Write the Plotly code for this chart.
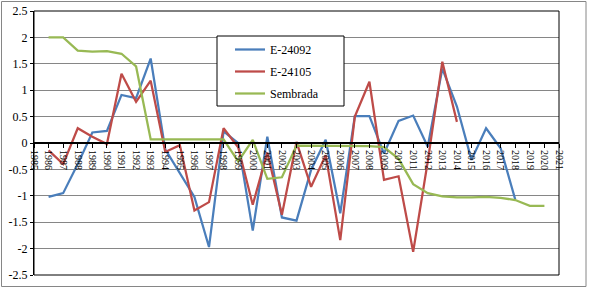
import plotly.graph_objects as go

tick_years = list(range(1985, 2022))
y_tickvals = [2.5, 2, 1.5, 1, 0.5, 0, -0.5, -1, -1.5, -2, -2.5]
y_ticktext = ["2.5", "2", "1.5", "1", "0.5", "0", "-0.5", "-1", "-1.5", "-2", "-2.5"]

years_e24092 = list(range(1986, 2019))
e24092 = [-1.02, -0.95, -0.4, 0.2, 0.23, 0.91, 0.85, 1.6, -0.12, -0.58,
          -1.02, -1.97, 0.22, 0.0, -1.66, 0.12, -1.41, -1.47, -0.51, 0.06,
          -1.33, 0.51, 0.51, -0.2, 0.42, 0.52, -0.07, 1.41, 0.69, -0.32,
          0.28, -0.1, -1.07]

years_e24105 = list(range(1986, 2015))
e24105 = [-0.14, -0.4, 0.28, 0.12, -0.02, 1.31, 0.78, 1.18, -0.17, -0.04,
          -1.28, -1.12, 0.28, -0.08, -1.17, -0.18, -1.36, 0.02, -0.83, -0.23,
          -1.84, 0.5, 1.16, -0.7, -0.63, -2.06, -0.35, 1.54, 0.4]

years_sembrada = list(range(1986, 2021))
sembrada = [2.0, 2.0, 1.75, 1.73, 1.74, 1.69, 1.45, 0.07, 0.07, 0.07,
            0.07, 0.07, 0.07, -0.35, 0.06, -0.68, -0.65, -0.05, -0.05, -0.05,
            -0.05, -0.05, -0.06, -0.08, -0.3, -0.78, -0.95, -1.01, -1.03, -1.03,
            -1.02, -1.04, -1.08, -1.19, -1.19]

FONT = '"Liberation Serif", "Times New Roman", serif'

fig = go.Figure()
fig.add_trace(go.Scatter(x=years_e24092, y=e24092, mode="lines", name="E-24092",
                         line=dict(color="#4A7EBB", width=2.25), legendgroup="a"))
fig.add_trace(go.Scatter(x=years_e24105, y=e24105, mode="lines", name="E-24105",
                         line=dict(color="#BE4B48", width=2.25), legendgroup="b"))
fig.add_trace(go.Scatter(x=years_sembrada, y=sembrada, mode="lines", name="Sembrada",
                         line=dict(color="#98B954", width=2.25), legendgroup="c"))

W, H = 590, 288
L, R, T, B = 34, 31, 11, 13
pw, ph = W - L - R, H - T - B

def px_x(p):
    return (p - L) / pw

def px_y(p):
    return (H - B - p) / ph

fig.update_layout(
    width=W, height=H,
    margin=dict(l=L, r=R, t=T, b=B, autoexpand=False),
    paper_bgcolor="white", plot_bgcolor="white",
    font=dict(family=FONT, color="black", size=12),
    showlegend=True,
    legend=dict(
        x=px_x(230), y=px_y(35), xanchor="left", yanchor="top",
        borderwidth=0, bgcolor="rgba(0,0,0,0)",
        font=dict(family=FONT, size=12, color="black"),
        tracegroupgap=3, traceorder="grouped",
    ),
    xaxis=dict(
        range=[1985, 2021], tickmode="array", tickvals=tick_years,
        ticktext=[str(y) for y in tick_years],
        tickangle=90, tickfont=dict(family=FONT, size=10, color="black"),
        anchor="free", position=0.5, automargin=False,
        showline=True, linecolor="black", linewidth=2,
        ticks="outside", ticklen=4, tickcolor="black", tickwidth=1,
        showgrid=False, zeroline=False,
    ),
    yaxis=dict(
        range=[-2.5, 2.5], tickmode="array", tickvals=y_tickvals, ticktext=y_ticktext,
        tickfont=dict(family=FONT, size=12, color="black"), automargin=False,
        showline=True, linecolor="black", linewidth=1,
        ticks="outside", ticklen=3, tickcolor="black",
        showgrid=True, gridcolor="#868686", gridwidth=1, zeroline=False,
    ),
)

# plot-area border
fig.add_shape(type="rect", xref="paper", yref="paper", x0=0, x1=1, y0=0, y1=1,
              line=dict(color="black", width=1), layer="above")
# legend frame
fig.add_shape(type="rect", xref="paper", yref="paper",
              x0=px_x(217), x1=px_x(344), y0=px_y(106), y1=px_y(36),
              line=dict(color="black", width=1), fillcolor="white", layer="above")
# chart outer border
fig.add_shape(type="rect", xref="paper", yref="paper",
              x0=px_x(1.5), x1=px_x(586), y0=px_y(286.5), y1=px_y(1.5),
              line=dict(color="#868686", width=1), layer="below")

fig.write_html("out.html", config={"displayModeBar": False},
               post_script="document.body.style.margin='0';")
